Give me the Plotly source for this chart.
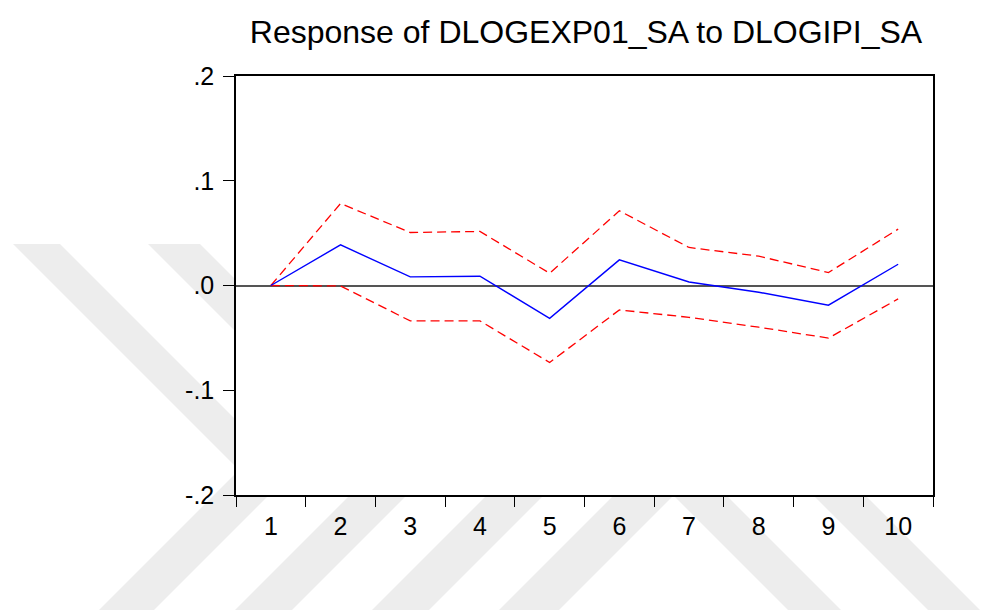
import plotly.graph_objects as go

# Impulse response of DLOGEXP01_SA to a shock in DLOGIPI_SA, with +/- 2 S.E. bands
periods = ["1", "2", "3", "4", "5", "6", "7", "8", "9", "10"]
response = [0.0, 0.0388, 0.0082, 0.0089, -0.0314, 0.0245, 0.0033, -0.0064, -0.0188, 0.0203]
upper_band = [0.0, 0.0783, 0.0506, 0.0516, 0.0117, 0.0713, 0.0363, 0.0280, 0.0124, 0.0538]
lower_band = [0.0, -0.0004, -0.0338, -0.0338, -0.0735, -0.0233, -0.0304, -0.0398, -0.0502, -0.0128]

y_tickvals = [-0.2, -0.1, 0.0, 0.1, 0.2]
y_ticktext = ["-.2", "-.1", ".0", ".1", ".2"]

W, H = 981, 610
ML, MR, MT, MB = 236, 48, 76, 115
PW, PH = W - ML - MR, H - MT - MB

def px(x, y):
    """Pixel position -> paper coordinates."""
    return (x - ML) / PW, (H - MB - y) / PH

def band_path(points):
    coords = [px(x, y) for x, y in points]
    return "M " + " L ".join(f"{a:.5f},{b:.5f}" for a, b in coords) + " Z"

# faint diagonal background stripes (the plot area itself stays white)
stripes = [
    [(13, 244), (60, 244), (311, 495), (264, 495)],
    [(148, 244), (200, 244), (451, 495), (399, 495)],
    [(97, 612), (152, 612), (322, 442), (267, 442)],
    [(233, 612), (290, 612), (460, 442), (403, 442)],
    [(370, 612), (427, 612), (597, 442), (540, 442)],
    [(497, 612), (557, 612), (727, 442), (667, 442)],
    [(790, 612), (843, 612), (673, 442), (620, 442)],
    [(930, 612), (982, 612), (812, 442), (760, 442)],
]
shapes = [
    dict(type="path", xref="paper", yref="paper", path=band_path(s),
         fillcolor="#ededed", line=dict(width=0), layer="below")
    for s in stripes
]
shapes.append(dict(type="rect", xref="paper", yref="paper", x0=0, x1=1, y0=0, y1=1,
                   fillcolor="white", line=dict(width=0), layer="below"))

font = "Liberation Sans, Arial, sans-serif"

fig = go.Figure()
fig.add_trace(go.Scatter(x=periods, y=upper_band, mode="lines",
                         line=dict(color="#ff0000", width=1.3, dash="9px,5px"),
                         showlegend=False, hoverinfo="skip"))
fig.add_trace(go.Scatter(x=periods, y=lower_band, mode="lines",
                         line=dict(color="#ff0000", width=1.3, dash="9px,5px"),
                         showlegend=False, hoverinfo="skip"))
fig.add_trace(go.Scatter(x=periods, y=response, mode="lines",
                         line=dict(color="#0000ff", width=1.4),
                         showlegend=False))

fig.update_layout(
    width=W, height=H,
    margin=dict(l=ML, r=MR, t=MT, b=MB, pad=0),
    paper_bgcolor="white", plot_bgcolor="white",
    shapes=shapes,
    title=dict(text="Response of DLOGEXP01_SA to DLOGIPI_SA",
               font=dict(family=font, size=32, color="black"),
               x=586 / W, xanchor="center",
               y=1 - 32 / H, yanchor="middle", xref="container", yref="container"),
    xaxis=dict(type="category", range=[-0.5, 9.5], tickson="boundaries",
               ticks="outside", ticklen=10, tickwidth=1.3, tickcolor="black",
               ticklabelstandoff=8,
               showline=True, linecolor="black", linewidth=1.5, mirror=True,
               showgrid=False, zeroline=False,
               tickfont=dict(family=font, size=25, color="black")),
    yaxis=dict(range=[-0.2, 0.2], tickvals=y_tickvals, ticktext=y_ticktext,
               ticks="outside", ticklen=11, tickwidth=1.3, tickcolor="black",
               ticklabelstandoff=4,
               showline=True, linecolor="black", linewidth=1.5, mirror=True,
               showgrid=False, zeroline=True, zerolinecolor="#555555", zerolinewidth=1.5,
               tickfont=dict(family=font, size=25, color="black")),
)

fig.write_html("out.html")
